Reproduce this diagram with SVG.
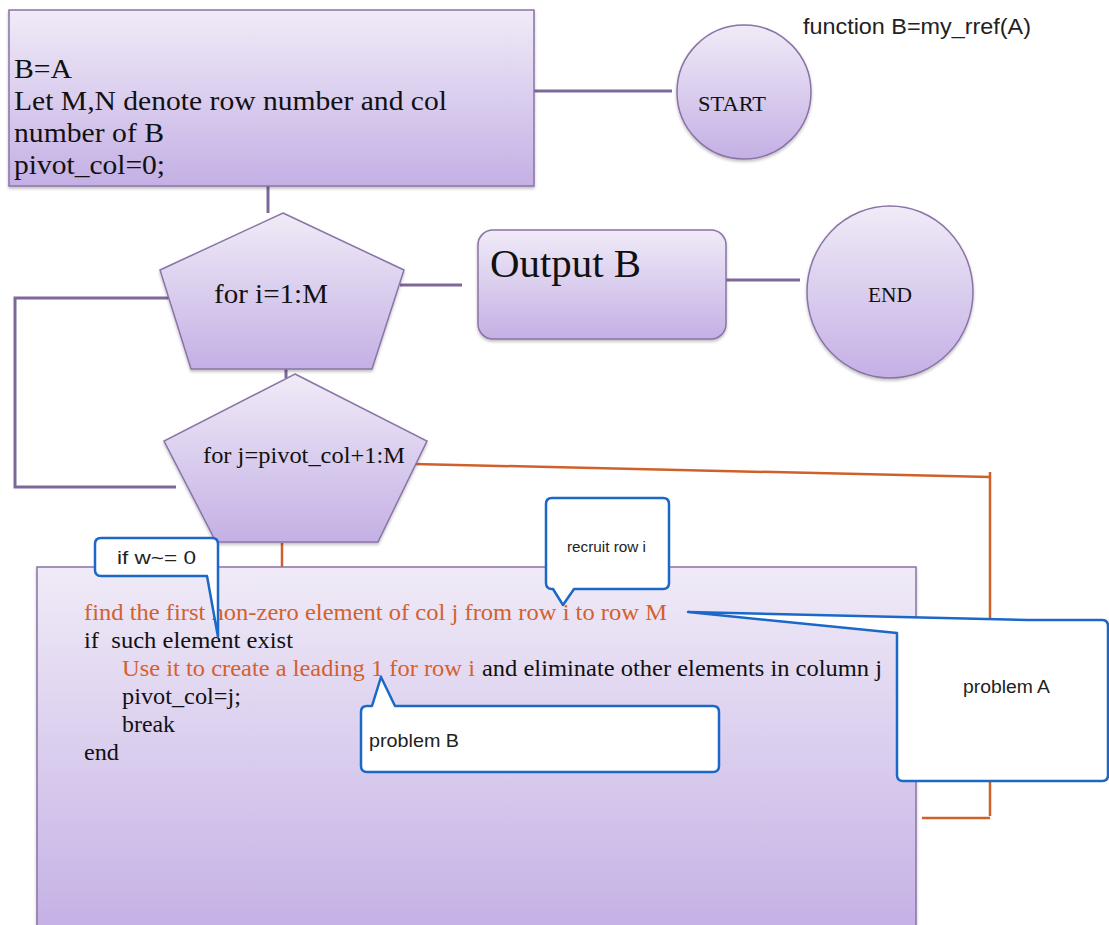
<svg xmlns="http://www.w3.org/2000/svg" width="1109" height="925" viewBox="0 0 1109 925">
<defs>
<linearGradient id="g" x1="0" y1="0" x2="0" y2="1">
<stop offset="0" stop-color="#f0ebf7"/>
<stop offset="1" stop-color="#c4b0e5"/>
</linearGradient>
<filter id="sh" x="-5%" y="-5%" width="110%" height="115%">
<feDropShadow dx="0" dy="2" stdDeviation="1.5" flood-color="#000" flood-opacity="0.25"/>
</filter>
<style>
.node{fill:url(#g);stroke:#8a73a6;stroke-width:1.5;filter:url(#sh)}
.pl{fill:none;stroke:#7f6899;stroke-width:3}
.ol{fill:none;stroke:#d0602a;stroke-width:2.5}
.call{fill:#fff;stroke:#1c68c8;stroke-width:2.5;stroke-linejoin:round}
.tm{font-family:"Liberation Serif",serif;fill:#111}
.hv{font-family:"Liberation Sans",sans-serif;fill:#222}
.or{fill:#d4612c}
</style>
</defs>
<g id="connectors">
<line class="pl" x1="534" y1="91" x2="672" y2="91"/>
<line class="pl" x1="268" y1="186" x2="268" y2="213"/>
<line class="pl" x1="400" y1="285" x2="462" y2="285"/>
<line class="pl" x1="726" y1="280" x2="800" y2="280"/>
<polyline class="pl" points="178,298 15,298 15,487 176,487"/>
<line class="pl" x1="286" y1="366" x2="286" y2="378"/>
<polyline class="ol" points="414,464 990,477"/>
<line class="ol" x1="990" y1="472" x2="990" y2="816"/>
<line class="ol" x1="922" y1="818" x2="990" y2="818"/>
<line class="ol" x1="282" y1="543" x2="282" y2="572"/>
</g>
<g id="init">
<rect class="node" x="9" y="10" width="525" height="176"/>
<text class="tm" font-size="28" x="14" y="78" textLength="58" lengthAdjust="spacingAndGlyphs">B=A</text>
<text class="tm" font-size="28" x="14" y="110" textLength="433" lengthAdjust="spacingAndGlyphs">Let M,N denote row number and col</text>
<text class="tm" font-size="28" x="14" y="142" textLength="150" lengthAdjust="spacingAndGlyphs">number of B</text>
<text class="tm" font-size="28" x="14" y="174" textLength="151" lengthAdjust="spacingAndGlyphs">pivot_col=0;</text>
</g>
<g id="start">
<ellipse class="node" cx="744" cy="92" rx="67" ry="67"/>
<text class="tm" font-size="22" x="698" y="111" textLength="68" lengthAdjust="spacingAndGlyphs">START</text>
</g>
<text class="hv" font-size="22" x="803" y="34" textLength="228" lengthAdjust="spacingAndGlyphs">function B=my_rref(A)</text>
<g id="fori">
<polygon class="node" points="283,213 404,270 372,369 191,369 160,270"/>
<text class="tm" font-size="27" x="214" y="303" textLength="114" lengthAdjust="spacingAndGlyphs">for i=1:M</text>
</g>
<g id="output">
<rect class="node" x="478" y="230" width="248" height="109" rx="15"/>
<text class="tm" font-size="41" x="490" y="277" textLength="151" lengthAdjust="spacingAndGlyphs">Output B</text>
</g>
<g id="end">
<ellipse class="node" cx="890" cy="292" rx="83" ry="86"/>
<text class="tm" font-size="20" x="868" y="302" textLength="44" lengthAdjust="spacingAndGlyphs">END</text>
</g>
<g id="forj">
<polygon class="node" points="295,374 427,441 378,542 216,542 164,441"/>
<text class="tm" font-size="23" x="203" y="463" textLength="202" lengthAdjust="spacingAndGlyphs">for j=pivot_col+1:M</text>
</g>
<g id="body">
<rect class="node" x="37" y="567" width="879" height="370"/>
<text class="tm or" font-size="23" x="84" y="620" textLength="583" lengthAdjust="spacingAndGlyphs">find the first non-zero element of col j from row i to row M</text>
<text class="tm" font-size="23" x="84" y="648" textLength="209" lengthAdjust="spacingAndGlyphs" xml:space="preserve">if  such element exist</text>
<text class="tm or" font-size="23" x="122" y="676" textLength="353" lengthAdjust="spacingAndGlyphs">Use it to create a leading 1 for row i</text>
<text class="tm" font-size="23" x="482" y="676" textLength="400" lengthAdjust="spacingAndGlyphs">and eliminate other elements in column j</text>
<text class="tm" font-size="23" x="122" y="704" textLength="119" lengthAdjust="spacingAndGlyphs">pivot_col=j;</text>
<text class="tm" font-size="23" x="122" y="732" textLength="53" lengthAdjust="spacingAndGlyphs">break</text>
<text class="tm" font-size="23" x="84" y="760" textLength="35" lengthAdjust="spacingAndGlyphs">end</text>
</g>
<g id="callout-w">
<path class="call" d="M101,538 H212 Q218,538 218,544 V637 L207,576 H101 Q95,576 95,570 V544 Q95,538 101,538 Z"/>
<text class="hv" font-size="19" x="117" y="564" textLength="79" lengthAdjust="spacingAndGlyphs">if w~= 0</text>
</g>
<g id="callout-recruit">
<path class="call" d="M552,498 H663 Q669,498 669,504 V583 Q669,589 663,589 H574 L563,605 L553,589 H552 Q546,589 546,583 V504 Q546,498 552,498 Z"/>
<text class="hv" font-size="15" x="567" y="552" textLength="79" lengthAdjust="spacingAndGlyphs">recruit row i</text>
</g>
<g id="callout-A">
<path class="call" d="M688,612 L1028,620 H1102 Q1108,620 1108,626 V775 Q1108,781 1102,781 H903 Q897,781 897,775 V633 Z"/>
<text class="hv" font-size="18" x="963" y="693" textLength="87" lengthAdjust="spacingAndGlyphs">problem A</text>
</g>
<g id="callout-B">
<path class="call" d="M367,706 H372 L381,677 L395,706 H713 Q719,706 719,712 V766 Q719,772 713,772 H367 Q361,772 361,766 V712 Q361,706 367,706 Z"/>
<text class="hv" font-size="19" x="369" y="747" textLength="90" lengthAdjust="spacingAndGlyphs">problem B</text>
</g>
</svg>
